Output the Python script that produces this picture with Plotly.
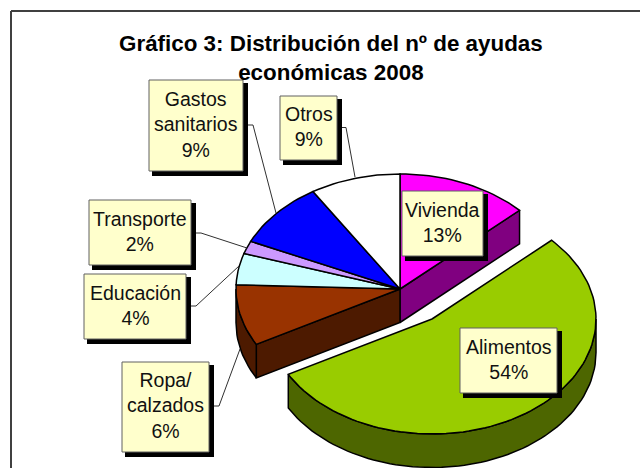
import math
import plotly.graph_objects as go

# ---- data ----
categories = ["Vivienda", "Alimentos", "Ropa/<br>calzados", "Educación", "Transporte", "Gastos<br>sanitarios", "Otros"]
slice_shares = [13.0, 54.0, 8.6, 4.4, 1.8, 9.3, 8.9]     # drawn size of each slice
printed_percent = ["13%", "54%", "6%", "4%", "2%", "9%", "9%"]  # as printed on the labels
top_colors = ["#FF00FF", "#99CC00", "#993300", "#CCFFFF", "#CC99FF", "#0000FF", "#FFFFFF"]
side_colors = ["#800080", "#4D6600", "#4D1A00", "#667F7F", "#664C7F", "#00007F", "#7F7F7F"]
title_text = "Gráfico 3: Distribución del nº de ayudas<br>económicas 2008"

# ---- layout of the pie (pixels in a 640x468 frame) ----
CX, CY, RX, RY, DEPTH = 400, 289, 164, 115, 33.5
EXPLODE = {1: (32, 30)}
LINE = dict(color="black", width=1.5)

def pt(cx, cy, t, dz=0):
    r = math.radians(t)
    return cx + RX * math.sin(r), cy - RY * math.cos(r) + dz

def arc(cx, cy, t0, t1, dz=0):
    n = max(2, int(abs(t1 - t0) / 2) + 1)
    return [pt(cx, cy, t0 + (t1 - t0) * i / (n - 1), dz) for i in range(n)]

def poly(points, color):
    return go.Scatter(x=[p[0] for p in points] + [points[0][0]],
                      y=[p[1] for p in points] + [points[0][1]],
                      mode="lines", fill="toself", fillcolor=color, line=LINE,
                      hoverinfo="skip", showlegend=False)

fig = go.Figure()
spans, t = [], 0.0
for s in slice_shares:
    spans.append((t, t + s * 3.6))
    t += s * 3.6

walls, tops = [], []
for i, (t0, t1) in enumerate(spans):
    dx, dy = EXPLODE.get(i, (0, 0))
    cx, cy = CX + dx, CY + dy
    # cut faces that look towards the viewer
    if i not in EXPLODE:
        if t1 < 180:
            a = pt(cx, cy, t1)
            walls.append(poly([(cx, cy), a, (a[0], a[1] + DEPTH), (cx, cy + DEPTH)], side_colors[i]))
        if 180 < t0 < 270:
            a = pt(cx, cy, t0)
            walls.append(poly([(cx, cy), a, (a[0], a[1] + DEPTH), (cx, cy + DEPTH)], side_colors[i]))
    # outer rim
    lo, hi = max(t0, 90), min(t1, 270)
    if lo < hi:
        walls.append(poly(arc(cx, cy, lo, hi) + arc(cx, cy, hi, lo, DEPTH), side_colors[i]))
    tops.append(poly([(cx, cy)] + arc(cx, cy, t0, t1), top_colors[i]))

order_main = [i for i in range(len(spans)) if i not in EXPLODE]
for tr in walls:
    fig.add_trace(tr)
for i in order_main:
    fig.add_trace(tops[i])
for i in EXPLODE:
    fig.add_trace(tops[i])

# ---- label boxes: x0, y0, x1, y1 of the yellow box ----
boxes = {
    0: (402, 191, 483, 256),
    1: (460, 328, 557, 393),
    2: (122, 362, 209, 452),
    3: (84, 274, 186, 339),
    4: (89, 200, 191, 265),
    5: (149, 80, 243, 171),
    6: (280, 96, 337, 160),
}
leaders = {
    2: "M214,406 L219,406 L240,349",
    3: "M191,306 L196,306 L239,266",
    4: "M196,233 L201,233 L247,248",
    5: "M248,125 L253,125 L276,213",
    6: "M342,127.5 L346,127.5 L355,177",
}
shapes = [
    dict(type="line", x0=11, x1=11, y0=11, y1=468, line=dict(color="#404040", width=2)),
    dict(type="line", x0=11, x1=640, y0=11, y1=11, line=dict(color="#404040", width=2)),
]
annotations = [dict(x=330.5, y=57.5, xref="x", yref="y", text=f"<b>{title_text}</b>", showarrow=False,
                    font=dict(family="Liberation Sans", size=22.4, color="black"), align="center")]
for i, path in leaders.items():
    shapes.append(dict(type="path", path=path, line=dict(color="#303030", width=1)))
for i, (x0, y0, x1, y1) in boxes.items():
    shapes.append(dict(type="rect", x0=x0 + 3, y0=y0 + 3, x1=x1 + 5, y1=y1 + 5,
                       fillcolor="black", line=dict(width=0)))
    shapes.append(dict(type="rect", x0=x0, y0=y0, x1=x1, y1=y1,
                       fillcolor="#FFFFCC", line=dict(color="#606060", width=1)))
    annotations.append(dict(x=(x0 + x1) / 2, y=(y0 + y1) / 2 - 1.5, xref="x", yref="y",
                            text=f"{categories[i]}<br>{printed_percent[i]}", showarrow=False,
                            font=dict(family="Liberation Sans", size=19.5, color="#111111"), align="center"))

fig.update_layout(
    width=640, height=468, margin=dict(l=0, r=0, t=0, b=0), autosize=False,
    paper_bgcolor="white", plot_bgcolor="white", showlegend=False,
    xaxis=dict(range=[0, 640], visible=False, fixedrange=True),
    yaxis=dict(range=[468, 0], visible=False, fixedrange=True),
    shapes=shapes, annotations=annotations,
)
fig.write_html("out.html", config={"displayModeBar": False},
               post_script="document.body.style.margin='0';document.body.style.overflow='hidden';")
